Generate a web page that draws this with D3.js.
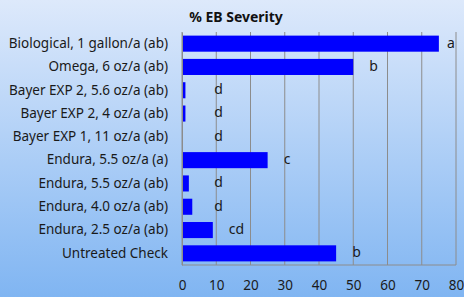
<!DOCTYPE html>
<html>
<head>
<meta charset="utf-8">
<script src="https://cdn.jsdelivr.net/npm/d3@7"></script>
<style>
  html, body { margin: 0; padding: 0; }
  svg { display: block; font-family: "Noto Sans", sans-serif; }
</style>
</head>
<body>
<svg id="chart"></svg>
<script>
// chart data
const treatments = [
  "Biological, 1 gallon/a (ab)",
  "Omega, 6 oz/a (ab)",
  "Bayer EXP 2, 5.6 oz/a (ab)",
  "Bayer EXP 2, 4 oz/a (ab)",
  "Bayer EXP 1, 11 oz/a (ab)",
  "Endura, 5.5 oz/a (a)",
  "Endura, 5.5 oz/a (ab)",
  "Endura, 4.0 oz/a (ab)",
  "Endura, 2.5 oz/a (ab)",
  "Untreated Check"
];
const severity = [75, 50, 1, 1, 0, 25, 2, 3, 9, 45];
const letters = ["a", "b", "d", "d", "d", "c", "d", "d", "cd", "b"];
const xTicks = [0, 10, 20, 30, 40, 50, 60, 70, 80];

const W = 464, H = 297;
const margin = { top: 32, right: 8, bottom: 32, left: 182 };
const width = W - margin.left - margin.right,
    height = H - margin.top - margin.bottom;

const root = d3.select("#chart").attr("width", W).attr("height", H);

// background gradient
const grad = root.append("defs").append("linearGradient")
    .attr("id", "bg").attr("x1", 0).attr("y1", 0).attr("x2", 0).attr("y2", 1);
grad.append("stop").attr("offset", "0%").attr("stop-color", "#dde9fb");
grad.append("stop").attr("offset", "100%").attr("stop-color", "#80b5f2");
root.append("rect").attr("width", W).attr("height", H).attr("fill", "url(#bg)");

root.append("text")
    .attr("x", 236).attr("y", 22)
    .attr("text-anchor", "middle")
    .style("font-size", "14px").style("font-weight", "bold").style("fill", "#111")
    .text("% EB Severity");

const svg = root.append("g")
    .attr("transform", `translate(${margin.left}, ${margin.top})`);

const x = d3.scaleLinear().domain([0, 80]).range([0, width]);
const y = d3.scaleBand().domain(treatments).range([0, height])
    .paddingInner(0.31).paddingOuter(0.155);

// gridlines
svg.selectAll(".grid")
  .data(xTicks)
  .enter().append("line")
  .attr("x1", d => x(d)).attr("x2", d => x(d))
  .attr("y1", 0).attr("y2", height)
  .attr("stroke", "#8c8c8c").attr("stroke-width", 1);

svg.append("line")
  .attr("x1", 0).attr("x2", width)
  .attr("y1", height).attr("y2", height)
  .attr("stroke", "#8c8c8c");

// bars
svg.selectAll(".bar")
  .data(treatments)
  .enter().append("rect")
  .attr("x", 0)
  .attr("y", d => y(d))
  .attr("width", (d, i) => x(severity[i]))
  .attr("height", y.bandwidth())
  .attr("fill", "#0000ff");

// significance letters
svg.selectAll(".letter")
  .data(treatments)
  .enter().append("text")
  .attr("x", (d, i) => Math.min(Math.max(x(severity[i]) + 16, x(10) - 2), x(80) - 9))
  .attr("y", d => y(d) + y.bandwidth() / 2 - 1)
  .attr("dy", "0.35em")
  .style("font-size", "14px").style("fill", "#1a1a1a")
  .text((d, i) => letters[i]);

// axes
const yAxis = svg.append("g").call(d3.axisLeft(y).tickSize(0).tickPadding(14));
yAxis.select(".domain").attr("stroke", "#8c8c8c");
yAxis.selectAll("text").style("font-size", "13.5px").style("fill", "#1a1a1a")
    .style("font-family", "'Noto Sans', sans-serif");

const xAxis = svg.append("g")
    .attr("transform", `translate(0,${height})`)
    .call(d3.axisBottom(x).tickValues(xTicks).tickSize(0).tickPadding(15));
xAxis.select(".domain").remove();
xAxis.selectAll("text").style("font-size", "13.5px").style("fill", "#1a1a1a")
    .style("font-family", "'Noto Sans', sans-serif");
</script>
</body>
</html>
